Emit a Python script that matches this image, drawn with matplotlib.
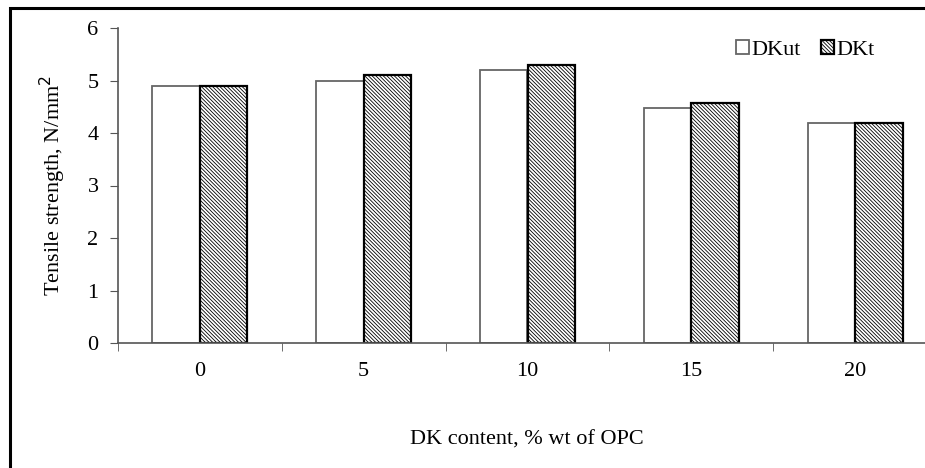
import matplotlib
matplotlib.use('Agg')
import matplotlib.pyplot as plt
import numpy as np
from matplotlib.patches import Rectangle

plt.rcParams['font.family'] = ['Liberation Serif', 'DejaVu Serif']
plt.rcParams['hatch.linewidth'] = 0.6
plt.rcParams['hatch.color'] = '#444444'

categories = ['0', '5', '10', '15', '20']
dkut = [4.9, 5.0, 5.2, 4.48, 4.2]
dkt = [4.9, 5.1, 5.3, 4.58, 4.2]

fig = plt.figure(figsize=(9.25, 4.68), dpi=100)
ax = fig.add_axes([118 / 925, 1 - 343 / 468, (937 - 118) / 925, (343 - 28) / 468])

x = np.arange(len(categories))
w = 0.29
ax.bar(x - w / 2, dkut, w, color='white', edgecolor='#666666', linewidth=1.3, label='DKut')
ax.bar(x + w / 2, dkt, w, color='white', edgecolor='black', linewidth=1.6,
       hatch='\\' * 9, label='DKt')

ax.set_xlim(-0.5, len(categories) - 0.5)
ax.set_ylim(0, 6)
ax.set_yticks(range(0, 7))
ax.set_xticks(x)
ax.set_xticklabels(categories)
ax.set_xticks(np.arange(-0.5, len(categories), 1), minor=True)
ax.tick_params(axis='x', which='major', length=0, pad=14, labelsize=16)
ax.tick_params(axis='x', which='minor', length=6, direction='out', color='#555555')
ax.tick_params(axis='y', length=6, direction='out', color='#555555', labelsize=16, pad=8)

for s in ['top', 'right']:
    ax.spines[s].set_visible(False)
for s in ['left', 'bottom']:
    ax.spines[s].set_color('#555555')
    ax.spines[s].set_linewidth(1.2)

ax.set_ylabel('Tensile strength, N/mm$^2$', fontsize=16, labelpad=14)
fig.text(527 / 925, 1 - 440 / 468, 'DK content, % wt of OPC', ha='center', va='center', fontsize=16)

ax.legend(loc='center', bbox_to_anchor=((805 - 118) / (937 - 118), (343 - 50) / 315),
          frameon=False, ncol=2, fontsize=16, handlelength=0.6, handleheight=0.6,
          handletextpad=0.1, columnspacing=0.9)

# outer frame (top and left edges visible)
fig.patches.append(Rectangle((10 / 925, -0.1), 1.2, 1 - 8 / 468 + 0.1,
                             transform=fig.transFigure, fill=False,
                             edgecolor='black', linewidth=2.2))

fig.savefig('out.png', dpi=100)
